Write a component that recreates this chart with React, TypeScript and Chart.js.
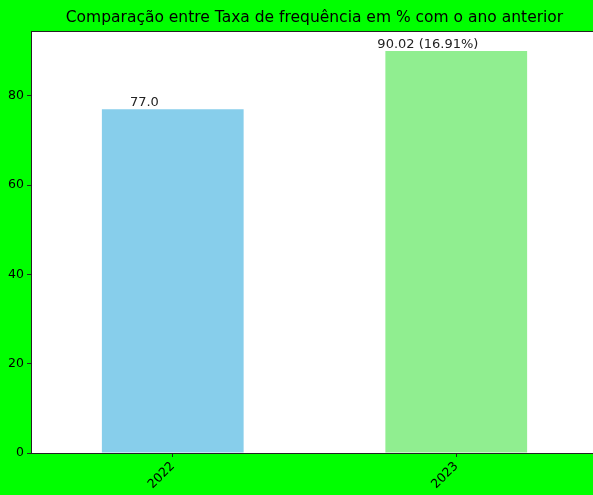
import React, { useEffect, useRef } from "react";
import { Chart, registerables } from "chart.js";

Chart.register(...registerables);

const categories = ["2022", "2023"];
const values = [77.0, 90.02];
const valueLabels = ["77.0", "90.02 (16.91%)"];
const barColors = ["#87CEEB", "#90EE90"];
const yTicks = [0, 20, 40, 60, 80];
const yMax = 94.52;
const titleText = "Comparação entre Taxa de frequência em % com o ano anterior";
const FONT = "'DejaVu Sans', sans-serif";

export default function App() {
  const ref = useRef<HTMLCanvasElement | null>(null);

  useEffect(() => {
    document.body.style.margin = "0";
    document.body.style.overflow = "hidden";
    const canvas = ref.current!;
    const plotBg = {
      id: "plotBg",
      beforeDraw(chart: any) {
        const { ctx, chartArea: a } = chart;
        ctx.save();
        ctx.fillStyle = "#ffffff";
        ctx.fillRect(a.left, a.top, a.right - a.left, a.bottom - a.top);
        ctx.restore();
      },
      afterDatasetsDraw(chart: any) {
        const { ctx, chartArea: a } = chart;
        ctx.save();
        ctx.strokeStyle = "#222";
        ctx.lineWidth = 1;
        ctx.strokeRect(Math.round(a.left) + 0.5, Math.round(a.top) + 0.5, a.right - a.left, a.bottom - a.top);
        // title centred over the axes
        ctx.fillStyle = "#000";
        ctx.font = `15.5px ${FONT}`;
        ctx.textAlign = "center";
        ctx.textBaseline = "middle";
        ctx.fillText(titleText, (a.left + a.right) / 2, a.top / 2 + 2);
        // value labels
        const xs = chart.scales.x;
        const ys = chart.scales.y;
        ctx.fillStyle = "#222";
        ctx.font = `13px ${FONT}`;
        ctx.textBaseline = "alphabetic";
        values.forEach((v, i) => {
          const x = xs.getPixelForValue(i) - 0.1 * (xs.getPixelForValue(1) - xs.getPixelForValue(0));
          const y = ys.getPixelForValue(v) - 3;
          ctx.fillText(valueLabels[i], x, y);
        });
        ctx.restore();
      },
    };

    const chart = new Chart(canvas, {
      type: "bar",
      data: {
        labels: categories,
        datasets: [
          {
            data: values,
            backgroundColor: barColors,
            borderWidth: 0,
            barPercentage: 0.5,
            categoryPercentage: 1,
          },
        ],
      },
      options: {
        responsive: false,
        animation: false,
        devicePixelRatio: 1,
        layout: { padding: { left: 0, right: 12, top: 31, bottom: 0 } },
        plugins: {
          legend: { display: false },
          tooltip: { enabled: false },
          title: { display: false },
        },
        scales: {
          x: {
            offset: true,
            grid: { display: true, offset: false, drawOnChartArea: false, color: "#222", tickLength: 4 },
            border: { display: true, color: "#222" },
            ticks: {
              color: "#000",
              font: { family: FONT, size: 12.5 },
              minRotation: 45,
              maxRotation: 45,
              padding: 2,
            },
            afterFit(scale: any) {
              scale.height = 42;
            },
          },
          y: {
            min: 0,
            max: yMax,
            grid: { display: true, drawOnChartArea: false, color: "#222", tickLength: 4 },
            border: { display: true, color: "#222" },
            afterBuildTicks(scale: any) {
              scale.ticks = yTicks.map((v) => ({ value: v }));
            },
            ticks: {
              color: "#000",
              font: { family: FONT, size: 12.5 },
              padding: 3,
              includeBounds: false,
            },
            afterFit(scale: any) {
              scale.width = 31;
            },
          },
        },
      },
      plugins: [plotBg],
    } as any);
    return () => chart.destroy();
  }, []);

  return (
    <div
      style={{
        position: "fixed",
        left: 0,
        top: 0,
        width: 593,
        height: 495,
        overflow: "hidden",
        background: "#00ff00",
      }}
    >
      <canvas ref={ref} width={610} height={495} style={{ display: "block" }} />
    </div>
  );
}
